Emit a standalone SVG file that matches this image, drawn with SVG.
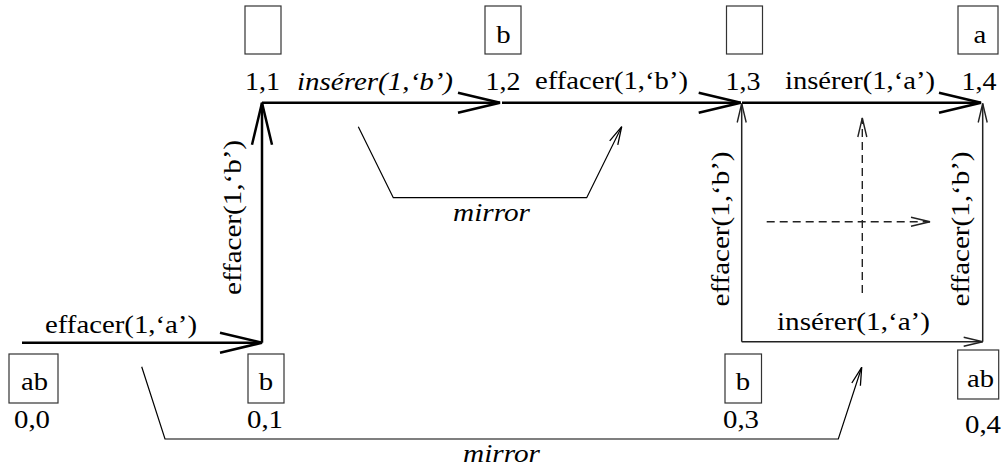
<svg xmlns="http://www.w3.org/2000/svg" width="1001" height="468" viewBox="0 0 1001 468" font-family="Liberation Serif, Times New Roman, serif">
<style>
text{font-size:25px;fill:#000}
.it{font-style:italic}
.box{fill:#fff;stroke:#333;stroke-width:1.2}
.thick{fill:none;stroke:#000;stroke-width:2.5}
.thin{fill:none;stroke:#222;stroke-width:1.5}
.dash{fill:none;stroke:#222;stroke-width:1.4;stroke-dasharray:8,5}
.mir{fill:none;stroke:#000;stroke-width:1.2}
</style>
<defs>
<marker id="big" markerUnits="userSpaceOnUse" viewBox="-46 -13 50 26" markerWidth="50" markerHeight="26" refX="0" refY="0" orient="auto">
<path d="M-42,-10 L0,0 L-42,10" fill="none" stroke="#000" stroke-width="2.5"/>
</marker>
<marker id="small" markerUnits="userSpaceOnUse" viewBox="-22 -7 26 14" markerWidth="26" markerHeight="14" refX="0" refY="0" orient="auto">
<path d="M-19,-4.5 L0,0 L-19,4.5" fill="none" stroke="#222" stroke-width="1.4"/>
</marker>
<marker id="mirr" markerUnits="userSpaceOnUse" viewBox="-22 -7 26 14" markerWidth="26" markerHeight="14" refX="0" refY="0" orient="auto">
<path d="M-18,-4.5 L0,0 L-18,4.5" fill="none" stroke="#000" stroke-width="1.3"/>
</marker>
</defs>

<g id="connectors">
<line class="thick" x1="22" y1="342.7" x2="262" y2="342.7" marker-end="url(#big)"/>
<line class="thick" x1="262" y1="342.7" x2="262" y2="102.7" marker-end="url(#big)"/>
<line class="thick" x1="262" y1="102.7" x2="500" y2="102.7" marker-end="url(#big)"/>
<line class="thick" x1="502" y1="102.7" x2="740.7" y2="102.7" marker-end="url(#big)"/>
<line class="thick" x1="742" y1="102.7" x2="981" y2="102.7" marker-end="url(#big)"/>
<line class="thin" x1="741.7" y1="341.7" x2="741.7" y2="103.5" marker-end="url(#small)"/>
<line class="thin" x1="982.7" y1="341.7" x2="982.7" y2="103.5" marker-end="url(#small)"/>
<line class="thin" x1="741.7" y1="341.7" x2="982.7" y2="341.7" marker-end="url(#small)"/>
<line class="dash" x1="862.3" y1="293" x2="862.3" y2="118" marker-end="url(#small)"/>
<line class="dash" x1="766.7" y1="221.7" x2="930" y2="221.7" marker-end="url(#small)"/>
<polyline class="mir" points="358.3,126.7 393.3,197.7 586.7,197.7 621.7,126.7" marker-end="url(#mirr)"/>
<polyline class="mir" points="141.7,366.7 165,439 838.3,439 861.7,367.3" marker-end="url(#mirr)"/>
<text x="121" y="333" text-anchor="middle" textLength="152" lengthAdjust="spacingAndGlyphs">effacer(1,‘a’)</text>
<text transform="translate(240.5,217.5) rotate(-90)" text-anchor="middle" textLength="155" lengthAdjust="spacingAndGlyphs">effacer(1,‘b’)</text>
<text class="it" x="375" y="90" text-anchor="middle" textLength="156" lengthAdjust="spacingAndGlyphs">insérer(1,‘b’)</text>
<text x="611.5" y="89" text-anchor="middle" textLength="153" lengthAdjust="spacingAndGlyphs">effacer(1,‘b’)</text>
<text x="860" y="89" text-anchor="middle" textLength="150" lengthAdjust="spacingAndGlyphs">insérer(1,‘a’)</text>
<text transform="translate(728.5,229) rotate(-90)" text-anchor="middle" textLength="155" lengthAdjust="spacingAndGlyphs">effacer(1,‘b’)</text>
<text transform="translate(968.5,229) rotate(-90)" text-anchor="middle" textLength="155" lengthAdjust="spacingAndGlyphs">effacer(1,‘b’)</text>
<text x="853.5" y="330" text-anchor="middle" textLength="153" lengthAdjust="spacingAndGlyphs">insérer(1,‘a’)</text>
<text class="it" x="491.5" y="221" text-anchor="middle" textLength="77" lengthAdjust="spacingAndGlyphs">mirror</text>
<text class="it" x="501.5" y="462" text-anchor="middle" textLength="77" lengthAdjust="spacingAndGlyphs">mirror</text>
</g>

<g id="n11">
<rect class="box" x="245" y="6" width="36" height="48"/>
<text x="262.5" y="90" text-anchor="middle" textLength="35" lengthAdjust="spacingAndGlyphs">1,1</text>
</g>
<g id="n12">
<rect class="box" x="485" y="6" width="36" height="48"/>
<text x="503.5" y="43" text-anchor="middle" textLength="14.4" lengthAdjust="spacingAndGlyphs">b</text>
<text x="503" y="90" text-anchor="middle" textLength="35" lengthAdjust="spacingAndGlyphs">1,2</text>
</g>
<g id="n13">
<rect class="box" x="726.5" y="6" width="36" height="48"/>
<text x="743" y="90" text-anchor="middle" textLength="35" lengthAdjust="spacingAndGlyphs">1,3</text>
</g>
<g id="n14">
<rect class="box" x="958" y="6" width="40" height="48"/>
<text x="980" y="43" text-anchor="middle" textLength="12.8" lengthAdjust="spacingAndGlyphs">a</text>
<text x="979" y="90" text-anchor="middle" textLength="35" lengthAdjust="spacingAndGlyphs">1,4</text>
</g>
<g id="n00">
<rect class="box" x="9" y="354" width="49" height="49"/>
<text x="34.5" y="390" text-anchor="middle" textLength="27" lengthAdjust="spacingAndGlyphs">ab</text>
<text x="32" y="428" text-anchor="middle" textLength="36" lengthAdjust="spacingAndGlyphs">0,0</text>
</g>
<g id="n01">
<rect class="box" x="248" y="354" width="36" height="49"/>
<text x="266" y="390" text-anchor="middle" textLength="14.4" lengthAdjust="spacingAndGlyphs">b</text>
<text x="265" y="428" text-anchor="middle" textLength="36" lengthAdjust="spacingAndGlyphs">0,1</text>
</g>
<g id="n03">
<rect class="box" x="725" y="354" width="36.5" height="49"/>
<text x="743" y="390" text-anchor="middle" textLength="14.4" lengthAdjust="spacingAndGlyphs">b</text>
<text x="741" y="428" text-anchor="middle" textLength="36" lengthAdjust="spacingAndGlyphs">0,3</text>
</g>
<g id="n04">
<rect class="box" x="957.7" y="350" width="41" height="49"/>
<text x="980.5" y="387" text-anchor="middle" textLength="27" lengthAdjust="spacingAndGlyphs">ab</text>
<text x="983" y="433" text-anchor="middle" textLength="36" lengthAdjust="spacingAndGlyphs">0,4</text>
</g>
</svg>
